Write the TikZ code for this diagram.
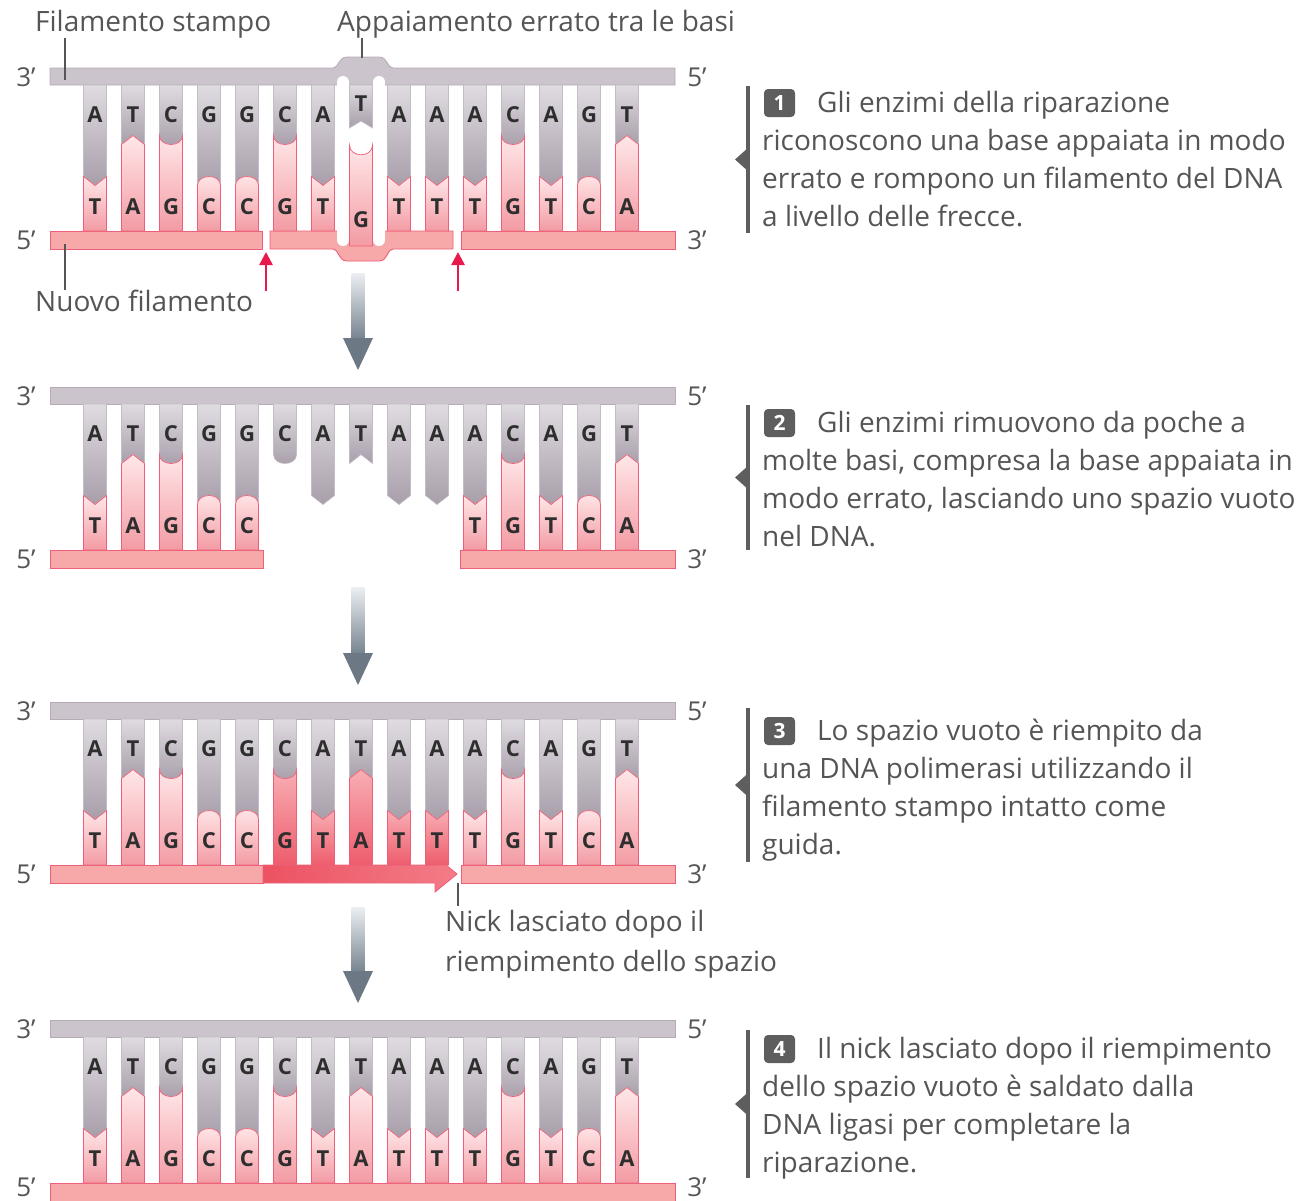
\documentclass[tikz,border=0pt]{standalone}
\usepackage{fontspec}
\setmainfont{Open Sans}
\usetikzlibrary{arrows.meta}

\definecolor{tplfill}{HTML}{CCC4CC}
\definecolor{tpldraw}{HTML}{B4ABB5}
\definecolor{newfill}{HTML}{F7A9AA}
\definecolor{newdraw}{HTML}{EE6079}
\definecolor{gtop}{HTML}{E0DBE1}
\definecolor{gbot}{HTML}{A79EA9}
\definecolor{ptop}{HTML}{FFE7E8}
\definecolor{pbot}{HTML}{F39BA4}
\definecolor{rtop}{HTML}{F8AEB4}
\definecolor{rbot}{HTML}{EE5C6C}
\definecolor{txt}{HTML}{555555}
\definecolor{letter}{HTML}{2E2E2E}
\definecolor{nickred}{HTML}{E8194B}
\definecolor{flowtop}{HTML}{ECEFF2}
\definecolor{flowbot}{HTML}{76838F}
\definecolor{flowhead}{HTML}{6C7884}
\definecolor{stepgray}{HTML}{5E5E5E}
\definecolor{synlo}{HTML}{EC5262}
\definecolor{synhi}{HTML}{F37C87}

\tikzset{
  tplstrand/.style={fill=tplfill, draw=tpldraw, line width=0.8},
  newstrand/.style={fill=newfill, draw=newdraw, line width=0.9},
  graybase/.style={top color=gtop, bottom color=gbot, draw=tpldraw!80!white, line width=0.6},
  pinkbase/.style={top color=ptop, bottom color=pbot, draw=newdraw, line width=0.7},
  redbase/.style={top color=rtop, bottom color=rbot, draw=newdraw, line width=0.7},
  baseletter/.style={font=\fontsize{22}{22}\selectfont\bfseries, text=letter, inner sep=0pt},
  strandlabel/.style={font=\fontsize{26}{26}\selectfont, text=txt, inner sep=0pt},
  caption/.style={font=\fontsize{28}{28}\selectfont, text=txt, inner sep=0pt, anchor=base west},
  leader/.style={draw=txt, line width=1.4},
  nickarrow/.style={draw=nickred, line width=2.6, -{Triangle[width=13,length=13]}},
  stepnum/.style={fill=stepgray, rounded corners=4, minimum width=31, minimum height=28,
    text=white, font=\fontsize{21}{21}\selectfont\bfseries, inner sep=0pt},
  stepbar/.style={draw=stepgray, line width=3.5},
  flowshaft/.style={top color=flowtop, bottom color=flowbot, draw=none},
  flowhead/.style={fill=flowhead},
}

% interface between the two bases of a pair, chosen by the template base
\newcommand\setiface[1]{%
  \def\bpPoint{0}\def\bpSgn{1}\def\bpLev{113}%
  \if#1A\def\bpPoint{1}\def\bpSgn{1}\def\bpLev{113}\fi
  \if#1T\def\bpPoint{1}\def\bpSgn{-1}\def\bpLev{72}\fi
  \if#1G\def\bpPoint{0}\def\bpSgn{-1}\def\bpLev{113}\fi
  \if#1C\def\bpPoint{0}\def\bpSgn{1}\def\bpLev{72}\fi
}

% one base pair: #1 strand top y, #2 index, #3 template base, #4 partner, #5 mode
% modes: n normal, g template half only, r newly made partner, m skip index 7
\newcommand\basepair[5]{%
  \pgfmathsetmacro\cx{95+38*#2}%
  \pgfmathsetmacro\xl{\cx-11.5}%
  \pgfmathsetmacro\xr{\cx+11.5}%
  \pgfmathsetmacro\ya{#1+17}%
  \pgfmathsetmacro\yb{#1+163}%
  \setiface{#3}%
  \pgfmathsetmacro\ys{#1+\bpLev-\bpSgn*4.5}%
  \pgfmathsetmacro\yp{#1+\bpLev+\bpSgn*4.5}%
  \pgfmathsetmacro\yc{\ys+4/3*(\yp-\ys)}%
  \ifnum\bpPoint=1
    \def\bpPath{-- (\cx,\yp) -- (\xr,\ys)}%
  \else
    \def\bpPath{.. controls (\xl,\yc) and (\xr,\yc) .. (\xr,\ys)}%
  \fi
  \def\bpDraw{1}%
  \if#5m\ifnum#2=7 \def\bpDraw{0}\fi\fi
  \ifnum\bpDraw=1
    \shadedraw[graybase] (\xl,\ya) -- (\xl,\ys) \bpPath -- (\xr,\ya) -- cycle;
    \if#5g\else
      \if#5r
        \shadedraw[redbase] (\xl,\yb) -- (\xl,\ys) \bpPath -- (\xr,\yb) -- cycle;
      \else
        \shadedraw[pinkbase] (\xl,\yb) -- (\xl,\ys) \bpPath -- (\xr,\yb) -- cycle;
      \fi
      \node[baseletter] (bl-#1-#2) at (\cx,#1+139) {#4};
    \fi
    \node[baseletter] (tl-#1-#2) at (\cx,#1+47) {#3};
  \fi
}

% all fifteen pairs of a panel; columns 5-9 get mode #2
\newcommand\dnapairs[2]{%
  \foreach \tb/\bb [count=\i from 0] in
    {A/T,T/A,C/G,G/C,G/C,C/G,A/T,T/A,A/T,A/T,A/T,C/G,A/T,G/C,T/A}{%
    \def\md{n}%
    \ifnum\i>4 \ifnum\i<10 \def\md{#2}\fi\fi
    \basepair{#1}{\i}{\tb}{\bb}{\md}%
  }%
}

% strand end labels: #1 strand top y, #2 suffix, #3 y of the lower pair
\newcommand\strandends[3]{%
  \node[strandlabel] (l3-#2) at (26,#1+9) {3’};
  \node[strandlabel] (l5-#2) at (26,#3) {5’};
  \node[strandlabel] (r5-#2) at (697,#1+9) {5’};
  \node[strandlabel] (r3-#2) at (697,#3) {3’};
}

% downward flow arrow between panels
\newcommand\flowarrow[2]{%
  \shade[flowshaft] (351.5,#1) rectangle (364.5,#2-31);
  \fill[flowhead] (343,#2-32) -- (373,#2-32) -- (358,#2) -- cycle;
}

\begin{document}
\begin{tikzpicture}[x=1pt,y=-1pt]
\useasboundingbox (0,0) rectangle (1303,1200);

%================ panel 1: mismatch recognised, strand cut ================
\def\P{68}
\path[tplstrand] (50,\P) -- (333,\P) .. controls (339,\P) and (338,\P-11) .. (347,\P-11)
  -- (379,\P-11) .. controls (388,\P-11) and (387,\P) .. (393,\P) -- (675,\P)
  -- (675,\P+17) -- (50,\P+17) -- cycle;
\path[newstrand] (50,\P+163) rectangle (262,\P+181);
\path[newstrand] (270,\P+163) -- (453,\P+163) -- (453,\P+181) -- (393,\P+181)
  .. controls (387,\P+181) and (388,\P+193) .. (379,\P+193) -- (347,\P+193)
  .. controls (338,\P+193) and (339,\P+181) .. (333,\P+181) -- (270,\P+181) -- cycle;
\path[newstrand] (461,\P+163) rectangle (675,\P+181);
\draw[white, line width=12, line cap=round] (343,\P+14) -- (343,\P+172);
\draw[white, line width=12, line cap=round] (379,\P+14) -- (379,\P+172);
\dnapairs{\P}{m}
% the mispaired T / G
\shadedraw[graybase] (349.5,\P+17) -- (349.5,\P+60) -- (361,\P+53) -- (372.5,\P+60)
  -- (372.5,\P+17) -- cycle;
\shadedraw[pinkbase] (349.5,\P+178) -- (349.5,\P+77) .. controls (349.5,\P+90) and (372.5,\P+90)
  .. (372.5,\P+77) -- (372.5,\P+178) -- cycle;
\node[baseletter] (misT) at (361,\P+36) {T};
\node[baseletter] (misG) at (361,\P+152) {G};
\strandends{\P}{a}{\P+172}
% cut sites
\coordinate (cut1) at (266,\P+184);
\coordinate (cut2) at (458,\P+184);
\draw[nickarrow] (266,291) -- (cut1);
\draw[nickarrow] (458,291) -- (cut2);
% labels
\node[caption] (lblstampo) at (35,31) {Filamento stampo};
\coordinate (stampotip) at (65,80);
\draw[leader] (stampotip |- 0,38) -- (stampotip);
\node[caption] (lblerr) at (337,31) {Appaiamento errato tra le basi};
\coordinate (errtip) at (362,58);
\draw[leader] (errtip |- 0,38) -- (errtip);
\node[caption] (lblnuovo) at (35,311) {Nuovo filamento};
\coordinate (nuovotip) at (65,244);
\draw[leader] (nuovotip) -- (65,290);

\flowarrow{273}{370}

%================ panel 2: stretch of new strand removed ================
\def\P{387}
\path[tplstrand] (50,\P) rectangle (675,\P+17);
\path[newstrand] (50,\P+163) rectangle (263,\P+181);
\path[newstrand] (460,\P+163) rectangle (675,\P+181);
\dnapairs{\P}{g}
\strandends{\P}{b}{\P+172}

\flowarrow{587}{685}

%================ panel 3: gap filled by polymerase ================
\def\P{702}
\path[tplstrand] (50,\P) rectangle (675,\P+17);
\path[newstrand] (50,\P+163) rectangle (263,\P+181);
\path[newstrand] (461,\P+163) rectangle (675,\P+181);
\shadedraw[left color=synlo, right color=synhi, draw=newdraw, line width=0.9]
  (263,\P+163) -- (435,\P+163) -- (435,\P+154) -- (457,\P+172) -- (435,\P+190)
  -- (435,\P+181) -- (263,\P+181) -- cycle;
\dnapairs{\P}{r}
\strandends{\P}{c}{\P+172}
\coordinate (nick) at (458,\P+181);
\draw[leader] (nick) -- (458,906);
\node[caption] (lblnick1) at (445,931) {Nick lasciato dopo il};
\node[caption] (lblnick2) at (445,971) {riempimento dello spazio};

\flowarrow{907}{1003}

%================ panel 4: nick sealed ================
\def\P{1020}
\path[tplstrand] (50,\P) rectangle (675,\P+17);
\path[newstrand] (50,\P+163) rectangle (675,\P+181);
\dnapairs{\P}{n}
\strandends{\P}{d}{1187}

%================ step descriptions ================
\draw[stepbar] (748,86) -- (748,233);
\fill[stepgray] (749,147) -- (735,159.5) -- (749,172) -- cycle;
\node[stepnum] (num1) at (779.5,103) {1};
\node[caption] (s1a) at (817,112) {Gli enzimi della riparazione};
\node[caption] (s1b) at (762,150) {riconoscono una base appaiata in modo};
\node[caption] (s1c) at (762,188) {errato e rompono un filamento del DNA};
\node[caption] (s1d) at (762,226) {a livello delle frecce.};

\draw[stepbar] (748,405) -- (748,550);
\fill[stepgray] (749,465) -- (735,477.5) -- (749,490) -- cycle;
\node[stepnum] (num2) at (779.5,423) {2};
\node[caption] (s2a) at (817,432) {Gli enzimi rimuovono da poche a};
\node[caption] (s2b) at (762,470) {molte basi, compresa la base appaiata in};
\node[caption] (s2c) at (762,508) {modo errato, lasciando uno spazio vuoto};
\node[caption] (s2d) at (762,546) {nel DNA.};

\draw[stepbar] (748,708) -- (748,862);
\fill[stepgray] (749,772.5) -- (735,785) -- (749,797.5) -- cycle;
\node[stepnum] (num3) at (779.5,731) {3};
\node[caption] (s3a) at (817,740) {Lo spazio vuoto è riempito da};
\node[caption] (s3b) at (762,778) {una DNA polimerasi utilizzando il};
\node[caption] (s3c) at (762,816) {filamento stampo intatto come};
\node[caption] (s3d) at (762,854) {guida.};

\draw[stepbar] (748,1030) -- (748,1178);
\fill[stepgray] (749,1091.5) -- (735,1104) -- (749,1116.5) -- cycle;
\node[stepnum] (num4) at (779.5,1049) {4};
\node[caption] (s4a) at (817,1058) {Il nick lasciato dopo il riempimento};
\node[caption] (s4b) at (762,1096) {dello spazio vuoto è saldato dalla};
\node[caption] (s4c) at (762,1134) {DNA ligasi per completare la};
\node[caption] (s4d) at (762,1172) {riparazione.};
\end{tikzpicture}
\end{document}
